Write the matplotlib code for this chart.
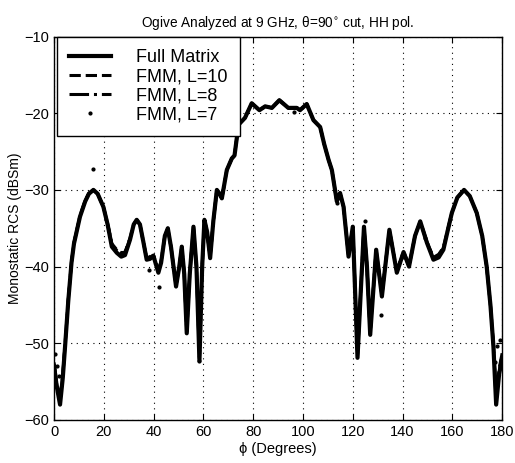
import numpy as np
import matplotlib
matplotlib.use("Agg")
import matplotlib.pyplot as plt

plt.rcParams['font.family'] = ['Liberation Sans', 'DejaVu Sans']

# azimuth angle (deg) and monostatic RCS (dBsm)
phi = [0, 1, 2.4, 3.5, 4.4, 5.7, 7, 8, 10.4, 12.5, 14, 15.8, 17.5, 19.8, 21.5,
       23.2, 25.2, 27.0, 28.5, 30.5, 32.0, 33.2, 34.5, 36.0, 37.2, 38.5, 39.9,
       41.0, 41.9, 43, 44.5, 45.7, 47, 49, 50.3, 51.3, 52.3, 53.3, 54.5, 56.0,
       57.2, 58.4, 59.5, 60.4, 61.5, 62.7, 64, 65.4, 66.5, 67.4, 69.4, 71.4,
       72.5, 73.5, 74.1, 76.7, 79.4, 82.5, 84.8, 87.5, 90.5, 94.1, 97.5, 98.8,
       101.5, 104.2, 106.9, 108.5, 110.3, 111.6, 113.6, 114.9, 116.3, 118.3,
       120, 121.9, 124.5, 125.7, 127, 129.4, 131.7, 134.7, 137.7, 140.4, 142.6,
       145, 147.1, 149.8, 152.4, 154.5, 156.4, 158, 159.8, 162, 164.7, 167,
       169.8, 172, 173.8, 175.3, 176.5, 177.6, 178.8, 180]

full = [-53.0, -55.5, -58.0, -54.5, -50.5, -44.5, -39.5, -37.0, -33.5, -31.5,
        -30.5, -30.0, -30.5, -32.2, -34.5, -37.4, -38.2, -38.7, -38.5, -36.5,
        -34.5, -33.9, -34.5, -37.0, -39.1, -39.0, -38.6, -39.8, -40.8, -39.5,
        -36.0, -35.0, -37.5, -42.6, -40.0, -37.4, -41.0, -48.7, -41.0, -34.8,
        -40.0, -52.3, -40.0, -33.9, -35.5, -38.9, -34.0, -30.0, -30.5, -31.1,
        -27.4, -25.9, -25.5, -23.0, -21.5, -20.6, -18.7, -19.6, -19.1, -19.3,
        -18.3, -19.3, -19.3, -19.6, -18.8, -20.9, -21.8, -24.0, -26.1, -27.4,
        -31.5, -30.4, -32.2, -38.7, -34.8, -51.9, -34.8, -40.0, -48.9, -37.8,
        -43.9, -35.2, -40.8, -38.1, -40.0, -36.0, -34.1, -36.9, -39.1, -38.8,
        -37.8, -35.5, -33.0, -31.0, -30.0, -30.8, -33.0, -36.0, -40.0, -45.0,
        -50.4, -58.0, -54.0, -52.0]

fmm10 = [-52.8, -55.2, -57.6, -54.3, -50.3, -44.4, -39.4, -36.9, -33.4, -31.4,
         -30.4, -30.0, -30.5, -32.2, -34.4, -37.0, -37.8, -38.2, -38.1, -36.3,
         -34.5, -33.9, -34.5, -37.0, -39.0, -38.8, -38.5, -39.7, -40.6, -39.4,
         -36.0, -35.0, -37.5, -42.5, -40.0, -37.4, -41.0, -48.5, -41.0, -34.8,
         -40.0, -52.0, -40.0, -33.9, -35.5, -38.8, -34.0, -30.0, -30.5, -31.1,
         -27.4, -25.9, -25.5, -23.0, -21.5, -20.6, -18.7, -19.6, -19.1, -19.3,
         -18.3, -19.3, -19.3, -19.6, -18.8, -20.9, -21.8, -24.0, -26.1, -27.4,
         -31.5, -30.4, -32.2, -38.6, -34.8, -51.7, -34.8, -40.0, -48.7, -37.8,
         -43.8, -35.2, -40.7, -38.1, -40.0, -36.0, -34.1, -36.8, -38.8, -38.4,
         -37.5, -35.4, -33.0, -31.0, -30.0, -30.8, -33.0, -36.0, -40.0, -45.0,
         -50.2, -57.5, -53.6, -51.6]

fmm8 = [-52.5, -55.0, -57.3, -54.0, -50.2, -44.3, -39.4, -36.9, -33.4, -31.4,
        -30.4, -30.0, -30.5, -32.2, -34.4, -37.1, -37.9, -38.4, -38.2, -36.4,
        -34.5, -33.9, -34.5, -37.0, -38.9, -38.7, -38.4, -39.6, -40.5, -39.3,
        -36.0, -35.0, -37.5, -42.4, -40.0, -37.4, -41.0, -48.4, -41.0, -34.8,
        -40.0, -51.8, -40.0, -33.9, -35.5, -38.8, -34.0, -30.0, -30.5, -31.1,
        -27.4, -25.9, -25.5, -23.0, -21.5, -20.6, -18.7, -19.6, -19.1, -19.3,
        -18.3, -19.3, -19.3, -19.6, -18.8, -20.9, -21.8, -24.0, -26.1, -27.4,
        -31.5, -30.4, -32.2, -38.6, -34.8, -51.5, -34.8, -40.0, -48.6, -37.8,
        -43.7, -35.2, -40.6, -38.0, -39.9, -36.0, -34.1, -36.8, -38.9, -38.5,
        -37.6, -35.4, -33.0, -31.0, -30.0, -30.8, -33.0, -36.0, -40.0, -45.0,
        -50.0, -57.2, -53.3, -51.3]

# L=7 samples (only the ones that show off the main curve, plus a few on it)
phi7 = [0.3, 1.1, 2.0, 15.8, 38.3, 42.3, 58.4, 96.2, 113.6, 125.0, 131.3,
        149.0, 177.2, 177.9, 179.2]
fmm7 = [-51.4, -53.0, -54.3, -27.3, -40.4, -42.6, -52.3, -19.9, -31.7,
        -34.1, -46.3, -36.3, -52.4, -50.4, -49.6]

fig = plt.figure(figsize=(5.15, 4.63), dpi=100)
ax = fig.add_axes([0.105, 0.093, 0.870, 0.828])

ax.plot(phi, full, color='black', lw=3.0, solid_joinstyle='round', label='Full Matrix')
ax.plot(phi, fmm10, color='black', lw=2.2, ls='--', label='FMM, L=10')
ax.plot(phi, fmm8, color='black', lw=2.2, ls='-.', label='FMM, L=8')
ax.plot(phi7, fmm7, color='black', ls='none', marker='.', ms=4, label='FMM, L=7')

ax.set_xlim(0, 180)
ax.set_ylim(-60, -10)
ax.set_xticks(np.arange(0, 181, 20))
ax.set_yticks(np.arange(-60, -9, 10))
ax.tick_params(direction='in', labelsize=10.5, length=4, top=True, right=True)
ax.grid(True, color='black', ls=(0, (1, 4)), lw=0.8)
for s in ax.spines.values():
    s.set_linewidth(1.0)

ax.set_xlabel('ϕ (Degrees)', fontsize=10.5, labelpad=2)
ax.set_ylabel('Monostatic RCS (dBSm)', fontsize=10, labelpad=2)
ax.set_title('Ogive Analyzed at 9 GHz, θ=90$^{\\circ}$ cut, HH pol.', fontsize=9.8, pad=7)

leg = ax.legend(loc='upper left', fontsize=13, frameon=True, fancybox=False,
                borderaxespad=0, handlelength=2.3, handletextpad=1.4,
                labelspacing=0.12, borderpad=0.7, bbox_to_anchor=(0.006, 1.0))
leg.get_frame().set_edgecolor('black')
leg.get_frame().set_linewidth(1.0)
leg.get_frame().set_alpha(1)

fig.savefig('out.png', dpi=100)
